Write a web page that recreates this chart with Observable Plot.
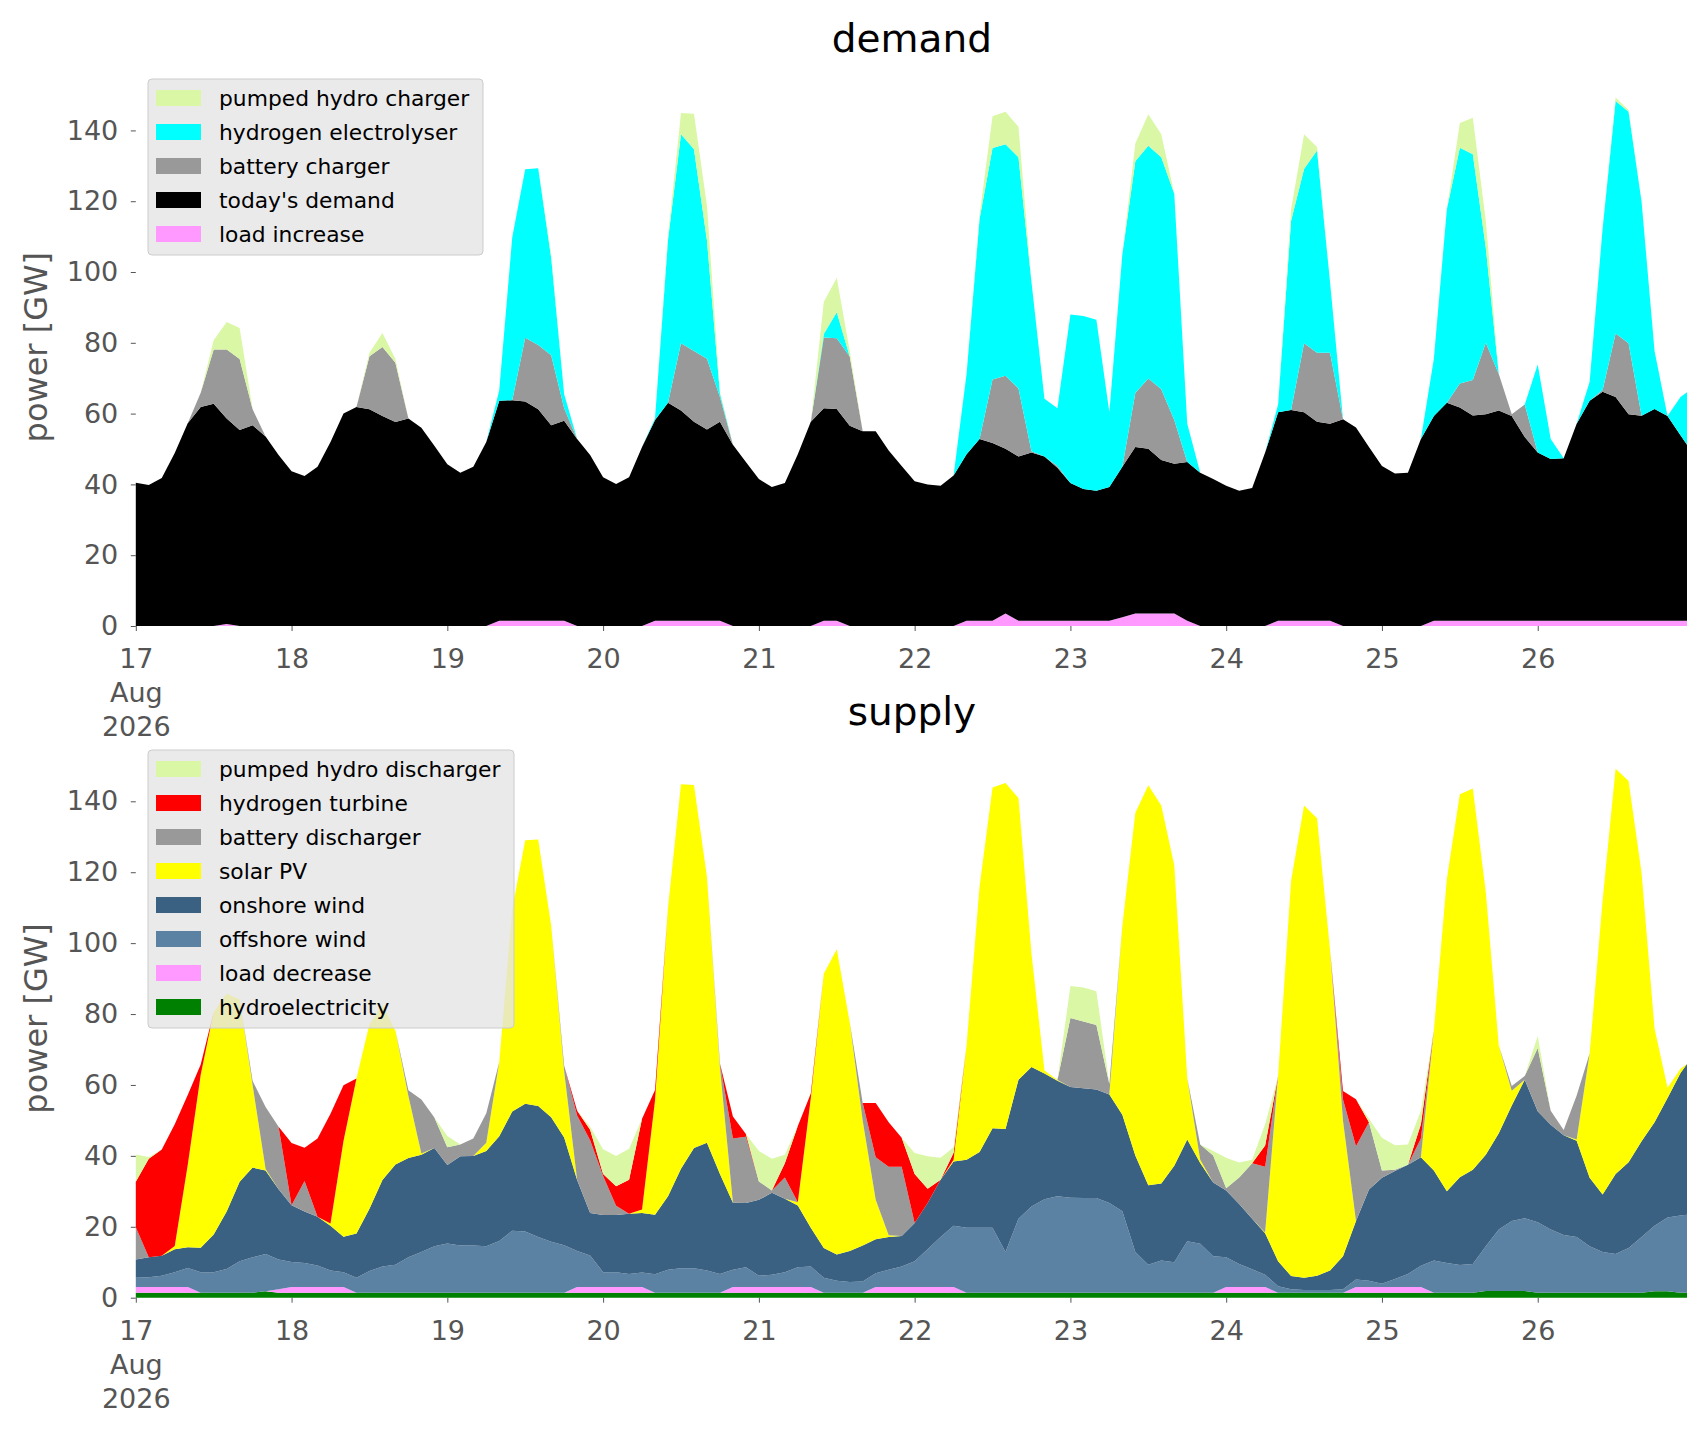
<!DOCTYPE html>
<html>
<head>
<meta charset="utf-8">
<script src="https://cdn.jsdelivr.net/npm/d3@7"></script>
<script src="https://cdn.jsdelivr.net/npm/@observablehq/plot@0.6"></script>
<style>
  html, body { margin: 0; padding: 0; background: #ffffff; }
  #chart svg { display: block; }
</style>
</head>
<body>
<div id="chart"></div>
<script>
// ---- time axis: 2-hourly samples from 17 Aug 2026 00:00 to 26 Aug 23:00 (hours since start)
const hours = d3.range(0, 240, 2).concat([239]);
const dayTicks = [17, 18, 19, 20, 21, 22, 23, 24, 25, 26];

// ---- DEMAND series (GW), one value per sample
const loadIncrease = [
  0,0,0,0,0,0,0,0.6,0,0,0,0,
  0,0,0,0,0,0,0,0,0,0,0,0,
  0,0,0,0,1.5,1.5,1.5,1.5,1.5,1.5,0,0,
  0,0,0,0,1.5,1.5,1.5,1.5,1.5,1.5,0,0,
  0,0,0,0,0,1.5,1.5,0,0,0,0,0,
  0,0,0,0,1.5,1.5,1.5,3.5,1.5,1.5,1.5,1.5,
  1.5,1.5,1.5,1.5,2.5,3.5,3.5,3.5,3.5,1.5,0,0,
  0,0,0,0,1.5,1.5,1.5,1.5,1.5,0,0,0,
  0,0,0,0,1.5,1.5,1.5,1.5,1.5,1.5,1.5,1.5,
  1.5,1.5,1.5,1.5,1.5,1.5,1.5,1.5,1.5,1.5,1.5,1.5,
  1.5];
const todaysDemand = [
  40.5,39.8,41.8,48.9,57.3,61.9,62.8,58.0,55.4,56.7,53.5,48.3,
  43.7,42.4,45.0,52.0,60.0,61.9,61.2,59.3,57.6,58.6,56.0,50.9,
  45.7,43.3,45.0,52.0,62.1,62.3,61.9,59.7,55.2,56.5,52.8,48.3,
  42.0,40.1,42.0,50.6,56.7,61.6,59.4,56.2,54.0,56.2,51.2,46.3,
  41.5,39.3,40.4,48.5,57.7,60.0,59.8,56.6,55.0,55.0,49.6,45.2,
  40.9,40.0,39.6,42.5,47.0,51.3,50.2,46.6,46.4,47.5,46.4,43.2,
  38.9,37.2,36.7,37.8,42.5,47.1,46.6,43.4,42.3,44.8,43.3,41.5,
  39.6,38.2,39.0,49.0,58.9,59.5,58.9,56.2,55.6,58.4,56.1,50.6,
  45.2,43.1,43.3,52.8,57.8,61.6,60.2,58.0,58.3,59.4,57.8,51.9,
  47.5,45.7,45.9,55.6,62.1,64.7,63.2,58.3,57.9,59.8,57.8,52.4,
  49.7];
const batteryCharger = [
  0,0,0,0,0,4,15.3,19.5,20,4.5,0,0,
  0,0,0,0,0,0,15,19.5,16.8,0,0,0,
  0,0,0,0,0,0,18,18.2,19.8,3.5,0,0,
  0,0,0,0,0,0,19,20,20,7,0,0,
  0,0,0,0,0,20,20,19.5,0,0,0,0,
  0,0,0,0,0,0,17.9,20.6,19.2,0.4,0,0.5,
  0,0,0,0,0,15.2,19.8,20,12.4,0,0,0,
  0,0,0,0,0,0,19.5,19.5,20.1,0,0,0,
  0,0,0,0,0,0,6.8,10,20.2,10.3,0.5,9.2,
  0,0,0,0,0,0.5,17.9,20.1,0,0,0,0,
  0];
const electrolyser = [
  0,0,0,0,0,0,0,0,0,0,0,0,
  0,0,0,0,0,0,0,0,0,0,0,0,
  0,0,0,0,3,46,47.6,49.9,27.5,4,0,0,
  0,0,0,0,0.5,46,59,57,33.5,1,0,0,
  0,0,0,0,0,1,7.3,0,0,0,0,0,
  0,0,0,0,22.7,62.2,65.4,65.4,65.3,47.8,16.3,16.3,
  47.6,48.9,48.3,21.1,60,65.5,65.8,65.5,63.9,10.8,0,0,
  0,0,0,0,2.2,53.5,49.2,57.1,20,0,0,0,
  0,0,0,0,16.2,54.6,66.6,63.8,26.9,0,0,0,
  24.9,5.6,0,0,5.4,45.6,65.7,65.4,60.5,16.4,0,10.8,
  14.8];
const phCharger = [
  0,0,0,0,0,0,2.6,7.8,8.8,0,0,0,
  0,0,0,0,0,0,1,4,1,0,0,0,
  0,0,0,0,0,0,0,0,1,0,0,0,
  0,0,0,0,0,1,6,10,9.8,0.5,0,0,
  0,0,0,0,0,9,9.8,1.6,0,0,0,0,
  0,0,0,0,0,1,9,9.2,8.6,0,0,0,
  0,0,0,0,0,5,8.9,6.5,0,0,0,0,
  0,0,0,0,0,3.2,9.8,1,0,0,0,0,
  0,0,0,0,0,0,7,10.3,7.6,0,0,0,
  0,0,0,0,0,0,1,0.5,0,0,0,0,
  0];

// ---- SUPPLY series (GW)
const hydro = [
  1.4,1.4,1.4,1.4,1.4,1.4,1.4,1.4,1.4,1.4,1.8,1.4,
  1.4,1.4,1.4,1.4,1.4,1.4,1.4,1.4,1.4,1.4,1.4,1.4,
  1.4,1.4,1.4,1.4,1.4,1.4,1.4,1.4,1.4,1.4,1.4,1.4,
  1.4,1.4,1.4,1.4,1.4,1.4,1.4,1.4,1.4,1.4,1.4,1.4,
  1.4,1.4,1.4,1.4,1.4,1.4,1.4,1.4,1.4,1.4,1.4,1.4,
  1.4,1.4,1.4,1.4,1.4,1.4,1.4,1.4,1.4,1.4,1.4,1.4,
  1.4,1.4,1.4,1.4,1.4,1.4,1.4,1.4,1.4,1.4,1.4,1.4,
  1.4,1.4,1.4,1.4,1.4,1.4,1.4,1.4,1.4,1.4,1.4,1.4,
  1.4,1.4,1.4,1.4,1.4,1.4,1.4,1.4,1.9,1.9,1.9,1.9,
  1.4,1.4,1.4,1.4,1.4,1.4,1.4,1.4,1.4,1.8,1.8,1.4,
  1.4];
const loadDecrease = [
  1.6,1.6,1.6,1.6,1.6,0,0,0,0,0,0,1.0,
  1.6,1.6,1.6,1.6,1.6,0,0,0,0,0,0,0,
  0,0,0,0,0,0,0,0,0,0,1.6,1.6,
  1.6,1.6,1.6,1.6,0,0,0,0,0,0,1.6,1.6,
  1.6,1.6,1.6,1.6,1.6,0,0,0,0,1.6,1.6,1.6,
  1.6,1.6,1.6,1.6,0,0,0,0,0,0,0,0,
  0,0,0,0,0,0,0,0,0,0,0,0,
  1.6,1.6,1.6,1.6,0,0,0,0,0,0,1.6,1.6,
  1.6,1.6,1.6,1.6,0,0,0,0,0,0,0,0,
  0,0,0,0,0,0,0,0,0,0,0,0,
  0];
const offshoreWind = [
  2.6,2.8,3.2,4.2,5.4,5.8,5.8,6.7,8.9,10,10.5,8.4,
  7.1,6.8,6.1,4.7,4.2,4.2,6.1,7.4,7.9,10,11.5,13.1,
  13.9,13.3,13.3,13.1,14.6,17.5,17.3,15.7,14.4,13.4,10.2,8.9,
  4.2,4.2,3.7,4.1,5.2,6.5,6.9,6.9,6.3,5.3,4.9,5.6,
  3.2,3.5,4.2,5.6,5.8,4.2,3.4,3.0,3.2,3.9,4.9,5.8,
  7.3,10.7,14.1,17.3,18.3,18.3,18.3,11.5,20.9,24.3,26.4,27.2,
  26.8,26.7,26.7,25.3,23,11.5,7.9,9.1,8.6,14.5,13.8,10.3,
  8.4,6.5,5.0,3.5,1.8,1.0,0.8,0.8,0.8,1.0,2.1,1.8,
  0.9,2.3,3.7,6.0,9.1,8.4,7.8,8.1,12.6,17.3,19.7,20.5,
  19.9,17.8,16.3,15.7,13.1,11.5,10.9,12.6,15.7,18.5,20.8,21.8,
  22];
const onshoreWind = [
  5.2,5.6,5.6,6.5,5.8,6.9,10.6,16.2,22.4,25.3,23.6,19.8,
  16.0,14.5,13.7,12.6,10.0,12.5,17.6,24.4,28.3,28.0,27.4,27.7,
  22.1,25.2,25.3,26.9,29.5,33.6,36.0,37.0,35.1,30.4,20.0,12.0,
  16.1,16.1,17.0,16.8,16.8,20.7,28.1,33.9,36.0,28.2,18.9,18.1,
  21.4,23.1,20.7,17.4,10.9,8.4,7.4,8.8,10.1,9.6,9.2,8.6,
  10.8,13.0,16.2,18.1,19.2,21.4,28.1,34.7,39.2,39.4,35.4,32.6,
  31.2,31.0,30.6,30.6,27.2,27.2,22.4,21.7,27.2,28.7,22.8,20.8,
  18.8,16.9,14.3,11.7,7.1,3.7,3.4,4.0,5.5,9.3,16.5,25.7,
  29.9,30.4,30.8,30.6,25.4,20.2,24.8,26.6,25.8,27.2,32.6,39.1,
  31.3,29.6,28.1,27.2,19.3,16.2,22.6,24.2,27.0,29.2,33.7,40.2,
  42.5];
const solarPV = [
  0,0,0,0.9,23.2,48.8,62.8,61.5,51.4,23.2,0.4,0,
  0,0,0,0.6,27.0,43.7,52.0,49.5,37.7,17.5,0.4,0,
  0,0,0,2.3,21.0,57.2,74.3,75.1,54.0,18.7,0,0,
  0,0,0,1.0,32.3,81.4,108.4,102.4,75.0,30.0,0,0,
  0,0,0,0.9,36.6,77.4,86.1,64.4,35.2,11.1,0.5,0,
  0,0,0,0.5,32.2,74.8,96.1,97.6,79.4,32.0,0.9,0.2,
  0,0,0,0,53.3,96.6,112.8,106.6,84.8,17.3,0.9,0,
  0,0,0,0.2,52.2,111.5,133.2,129.0,90.4,38.2,0,0,
  0,0,0,0,39.5,88.1,108.0,107.5,74.1,24.7,4.2,0,
  0,0,0,0.3,35.1,83.1,114.3,107.5,75.7,26.4,2.9,1.2,
  0];
const batteryDischarger = [
  9.1,0,0,0,0,0,0,0,0,1.2,17.5,17.6,
  0,8.6,0,0,0,0,0,0,0,1.6,15.2,8.6,
  5.0,3.3,4.9,8.3,0,0,0,0,0,1.5,18.2,20.5,
  11.0,2.6,0,0,0,0,0,0,0,1.2,18.1,18.7,
  5.2,0.6,6.0,0,0,0,0,0,5.0,12.0,19.3,19.5,
  0,0,0,0,0,0,0,0,0,0,0,0,
  19.5,18.8,18.2,3.0,0,0,0,0,0,0,4.3,7.6,
  0.7,7.5,15.6,18.5,0,0,0,0,0,6.0,21.1,19.0,
  2.1,0.4,0,5.3,0,0,0,0,0,0,1.3,1.0,
  17.8,3.9,1.5,12.4,0,0,0,0,0,0,0,0,
  0];
const hydrogenTurbine = [
  12.8,27.8,30.0,34.3,19.8,2.9,0,0,0,0,0,0,
  17.5,9.4,22.1,31.0,15.7,0,0,0,0,0,0,0,
  0,0,0,0,0,0,0,0,0,0,1.3,3.0,
  0.6,5.5,9.6,25.6,2.9,0,0,0,0,0,6.2,0.8,
  0,0,4.0,21.5,1.3,0,0,0,0,15.3,12.6,8.2,
  13.8,4.0,0,2.0,0,0,0,0,0,0,0,0,
  0,0,0,0,0,0,0,0,0,0,0,0,
  0,0,0,6.0,0,0,0,0,0,2.4,13.3,0,
  0,0,0,4.0,0,0,0,0,0,0,0,0,
  0,0,0,0,0,0,0,0,0,0,0,0,
  0];
const phDischarger = [
  7.7,0.5,0,0,0,0,0,0,0,0,0,0,
  0,0,0,0,0,0,0,0,0,0,0,0,
  3.2,0,0,0,0,0,0,0,0,0,0,0.8,
  7.0,8.6,8.7,0,0,0,0,0,0,0,0,0,
  8.6,9.0,2.4,0,0,0,0,0,0,0,0,0,
  5.9,9.2,6.2,1.5,0,0,0,0,0,0,0,0,
  9.0,9.6,9.5,0,0,0,0,0,0,0,0,1.3,
  8.6,4.2,1.0,6.0,0,0,0,0,0,0,0,1.0,
  9.2,6.9,5.7,3.8,0,0,0,0,0,0,0,0,
  3.4,0,0,0,0,0,0,0,0,0,0,0,
  0];

// ---- series definitions: stacking order bottom -> top, with colours
const demandSeries = [
  ["load increase", loadIncrease, "#ff99ff"],
  ["today's demand", todaysDemand, "#000000"],
  ["battery charger", batteryCharger, "#999999"],
  ["hydrogen electrolyser", electrolyser, "#00ffff"],
  ["pumped hydro charger", phCharger, "#daf7a6"]
];
const supplySeries = [
  ["hydroelectricity", hydro, "#008000"],
  ["load decrease", loadDecrease, "#ff99ff"],
  ["offshore wind", offshoreWind, "#5b82a3"],
  ["onshore wind", onshoreWind, "#3b6182"],
  ["solar PV", solarPV, "#ffff00"],
  ["battery discharger", batteryDischarger, "#999999"],
  ["hydrogen turbine", hydrogenTurbine, "#ff0000"],
  ["pumped hydro discharger", phDischarger, "#daf7a6"]
];

const t0 = Date.UTC(2026, 7, 17);
const toDate = h => new Date(t0 + h * 3600e3);
const tickDates = dayTicks.map(d => new Date(Date.UTC(2026, 7, d)));
const xDomain = [toDate(0), toDate(239)];
const FONT = "DejaVu Sans, sans-serif";

function longData(series) {
  const out = [];
  series.forEach(([name, values]) => {
    values.forEach((v, i) => out.push({t: toDate(hours[i]), name, v}));
  });
  return out;
}

function makePlot(series, title, opts) {
  const names = series.map(s => s[0]);
  const colors = series.map(s => s[2]);
  const svg = Plot.plot({
    width: 1706,
    height: opts.height,
    marginLeft: 135.8,
    marginRight: 19,
    marginTop: opts.marginTop,
    marginBottom: opts.marginBottom,
    style: {fontFamily: FONT, background: "white", overflow: "visible"},
    x: {type: "utc", domain: xDomain, label: null},
    y: {domain: [0, 157.8], label: null},
    color: {domain: names, range: colors},
    marks: [
      Plot.areaY(longData(series), {
        x: "t", y: "v", z: "name", fill: "name",
        order: names, curve: "linear"
      }),
      Plot.axisX({
        ticks: tickDates,
        tickFormat: d => d.getUTCDate() === 17 ? "17\nAug\n2026" : String(d.getUTCDate()),
        tickSize: 5, tickPadding: 13, fontSize: 27, lineHeight: 1.25,
        color: "#555555", label: null
      }),
      Plot.axisY({
        ticks: [0, 20, 40, 60, 80, 100, 120, 140],
        tickSize: 5, tickPadding: 13, fontSize: 27,
        color: "#555555", label: null
      }),
      Plot.text([title], {
        text: d => d, frameAnchor: "top", dy: opts.titleDy,
        fontSize: 39, fill: "#000000", lineAnchor: "middle"
      }),
      Plot.text(["power [GW]"], {
        text: d => d, frameAnchor: "left", dx: -99.3, rotate: -90,
        fontSize: 32, fill: "#555555", textAnchor: "middle", lineAnchor: "middle"
      })
    ]
  });
  // legend (reverse of stacking order), drawn inside the axes at top-left
  const g = d3.select(svg).append("g")
    .attr("font-family", FONT)
    .attr("text-anchor", "start");
  const entries = series.slice().reverse();
  g.append("rect")
    .attr("x", 148).attr("y", opts.legendY)
    .attr("width", opts.legendW).attr("height", entries.length * 34 + 6)
    .attr("rx", 4).attr("ry", 4)
    .attr("fill", "#e5e5e5").attr("fill-opacity", 0.8)
    .attr("stroke", "#cccccc").attr("stroke-width", 1);
  entries.forEach(([name, , color], k) => {
    const cy = opts.legendY + 19 + 34 * k;
    g.append("rect").attr("x", 156).attr("y", cy - 8)
      .attr("width", 45).attr("height", 16).attr("fill", color);
    g.append("text").attr("x", 219).attr("y", cy).attr("dy", "0.35em")
      .attr("text-anchor", "start")
      .attr("font-size", 21.8).attr("fill", "#000000").text(name);
  });
  return svg;
}

const chart = document.getElementById("chart");
chart.appendChild(makePlot(demandSeries, "demand", {
  height: 700, marginTop: 67.4, marginBottom: 74, titleDy: -27.9,
  legendY: 79, legendW: 335
}));
chart.appendChild(makePlot(supplySeries, "supply", {
  height: 731, marginTop: 38.2, marginBottom: 133.3, titleDy: -25.7,
  legendY: 50, legendW: 366
}));
</script>
</body>
</html>
